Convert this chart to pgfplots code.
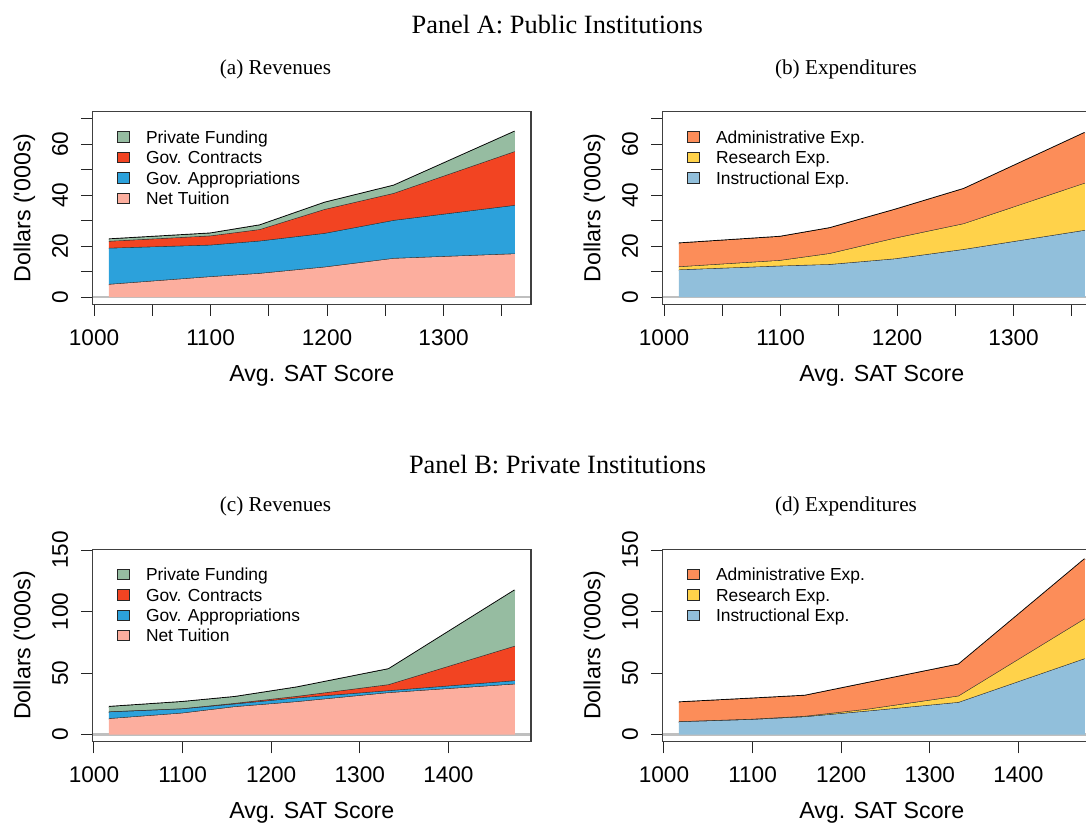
\documentclass[border=0pt]{standalone}
\usepackage{fontspec}
\setmainfont{Liberation Serif}
\newfontfamily\arialfont{Liberation Sans}
\usepackage{pgfplots}
\pgfplotsset{compat=1.18}
\usepackage{pgfplotstable}

\definecolor{tuitc}{RGB}{252,174,158}
\definecolor{apprc}{RGB}{44,161,219}
\definecolor{contc}{RGB}{242,68,34}
\definecolor{privc}{RGB}{150,188,161}
\definecolor{adminc}{RGB}{252,141,89}
\definecolor{resc}{RGB}{255,210,74}
\definecolor{instc}{RGB}{145,191,219}

\newcommand{\tickfont}{\arialfont\fontsize{11.3}{13}\selectfont}
\newcommand{\labfont}{\arialfont\fontsize{11.6}{13}\selectfont}
\newcommand{\legfont}{\arialfont\fontsize{8.7}{10}\selectfont}
\newcommand{\panelfont}{\fontsize{13.2}{15}\selectfont}
\newcommand{\subfont}{\fontsize{10.6}{12}\selectfont}

% Panel A: public institutions (dollars per student, '000s)
\pgfplotstableread{
x      tuition approp contracts private
1012.7  4.9    14.2   2.7       0.9
1099.6  7.9    12.4   3.6       1.1
1142.3  9.2    12.7   4.5       1.8
1198.0 11.7    13.2   9.4       2.8
1257.3 15.1    14.9  10.6       3.2
1361.1 16.9    19.0  21.1       8.0
}\pubrev
\pgfplotstableread{
x      instr research admin
1012.7 10.6   1.2     9.3
1099.6 12.1   2.2     9.4
1142.3 12.7   4.3    10.1
1198.0 14.9   8.1    11.3
1257.3 18.6  10.1    13.8
1361.1 26.1  18.5    19.9
}\pubexp
% Panel B: private institutions
\pgfplotstableread{
x      tuition approp contracts private
1016.8 12.7    5.4    0.1       4.3
1099.4 17.2    3.4    0.1       5.8
1159.1 22.4    2.2    0.5       5.5
1229.2 26.5    3.0    1.3       7.6
1332.6 33.8    1.6    4.9      12.9
1474.9 40.8    2.7   28.1      45.7
}\privrev
\pgfplotstableread{
x      instr research admin
1016.8 10.1   0.1    16.0
1099.4 12.0   0.2    17.1
1159.1 14.2   0.4    17.0
1229.2 18.8   1.5    21.6
1332.6 25.9   5.2    25.9
1474.9 61.4  32.4    48.9
}\privexp

\tikzset{zeroline/.style={gray!50, line width=1.15pt}}

\pgfplotsset{
  swatch/.style={legend image code/.code={%
      \draw[##1,draw=black!85,line width=0.45pt] (0pt,-1.7pt) rectangle (6.35pt,3.45pt);}},
  innerline/.style={draw=black!80, line width=0.6pt, forget plot},
  outerline/.style={draw=black, line width=0.9pt, forget plot},
  panel/.style={
    scale only axis, width=219.2pt, height=96.3pt,
    anchor=south west,
    axis line style={black!75, line width=0.55pt},
    tick align=outside, tick pos=left,
    major tick length=5.8pt,
    major tick style={black!85, line width=0.5pt},
    minor tick num=0,
    stack plots=y,
    /pgf/number format/assume math mode=true,
    tick label style={font=\tickfont},
    xticklabel style={anchor=base, yshift=-14.6pt},
    yticklabel style={xshift=-6.6pt, rotate=90, anchor=base},
    xlabel={Avg. SAT Score}, ylabel={Dollars ('000s)},
    x label style={at={(axis description cs:0.5,-0.4013)}, anchor=base, font=\labfont},
    y label style={at={(axis description cs:-0.1419,0.5)}, anchor=base, font=\labfont},
    legend cell align=left,
    legend style={at={(axis description cs:0.055,0.9034)}, anchor=north west,
      draw=none, fill=none, inner sep=0pt, outer sep=0pt, row sep=1.7pt,
      font=\legfont,
      nodes={inner sep=0pt, text height=6.5pt, text depth=2pt},
      /tikz/every odd column/.append style={column sep=7.85pt}},
  },
  toprow/.style={xmin=998.76, xmax=1375.04, ymin=-2.8, ymax=72.8,
    xtick={1000,1050,...,1350}, xticklabels={1000,,1100,,1200,,1300,},
    ytick={0,10,...,70}, yticklabels={0,,20,,40,,60,}},
  botrow/.style={xmin=998.48, xmax=1493.22, ymin=-5.8, ymax=150.8,
    xtick={1000,1100,...,1400}, xticklabels={1000,1100,1200,1300,1400},
    ytick={0,50,100,150}, yticklabels={0,50,100,150}},
}

\begin{document}
\begin{tikzpicture}
% titles
\node[font=\panelfont, anchor=base] at (278.6pt,-16.65pt) {Panel A: Public Institutions};
\node[font=\panelfont, anchor=base] at (278.75pt,-236.65pt) {Panel B: Private Institutions};
\node[font=\subfont, anchor=base] at (137.75pt,-37.5pt) {(a) Revenues};
\node[font=\subfont, anchor=base] at (423pt,-37.5pt) {(b) Expenditures};
\node[font=\subfont, anchor=base] at (137.75pt,-255.5pt) {(c) Revenues};
\node[font=\subfont, anchor=base] at (423pt,-255.5pt) {(d) Expenditures};

% (a) revenues, public
\begin{axis}[panel, toprow, at={(46.3pt,-152.15pt)}]
\addlegendimage{swatch, fill=privc}\addlegendentry{Private Funding}
\addlegendimage{swatch, fill=contc}\addlegendentry{Gov. Contracts}
\addlegendimage{swatch, fill=apprc}\addlegendentry{Gov. Appropriations}
\addlegendimage{swatch, fill=tuitc}\addlegendentry{Net Tuition}
\addplot[fill=tuitc, draw=none, forget plot] table[x=x, y=tuition]{\pubrev} \closedcycle;
\addplot[innerline] table[x=x, y expr=0]{\pubrev};
\addplot[fill=apprc, draw=none, forget plot] table[x=x, y=approp]{\pubrev} \closedcycle;
\addplot[innerline] table[x=x, y expr=0]{\pubrev};
\addplot[fill=contc, draw=none, forget plot] table[x=x, y=contracts]{\pubrev} \closedcycle;
\addplot[innerline] table[x=x, y expr=0]{\pubrev};
\addplot[fill=privc, draw=none, forget plot] table[x=x, y=private]{\pubrev} \closedcycle;
\addplot[outerline] table[x=x, y expr=0]{\pubrev};
\draw[zeroline] (axis cs:999.3,0) -- (axis cs:1374.5,0);
\fill[white, opacity=0.75] (axis cs:1158.2,30.6) rectangle (axis cs:1183.4,34.9);
\end{axis}

% (b) expenditures, public
\begin{axis}[panel, toprow, at={(331.3pt,-152.15pt)}]
\addlegendimage{swatch, fill=adminc}\addlegendentry{Administrative Exp.}
\addlegendimage{swatch, fill=resc}\addlegendentry{Research Exp.}
\addlegendimage{swatch, fill=instc}\addlegendentry{Instructional Exp.}
\addplot[fill=instc, draw=none, forget plot] table[x=x, y=instr]{\pubexp} \closedcycle;
\addplot[innerline] table[x=x, y expr=0]{\pubexp};
\addplot[fill=resc, draw=none, forget plot] table[x=x, y=research]{\pubexp} \closedcycle;
\addplot[innerline] table[x=x, y expr=0]{\pubexp};
\addplot[fill=adminc, draw=none, forget plot] table[x=x, y=admin]{\pubexp} \closedcycle;
\addplot[outerline] table[x=x, y expr=0]{\pubexp};
\draw[zeroline] (axis cs:999.3,0) -- (axis cs:1374.5,0);
\end{axis}

% (c) revenues, private
\begin{axis}[panel, botrow, at={(46.3pt,-370.85pt)}]
\addlegendimage{swatch, fill=privc}\addlegendentry{Private Funding}
\addlegendimage{swatch, fill=contc}\addlegendentry{Gov. Contracts}
\addlegendimage{swatch, fill=apprc}\addlegendentry{Gov. Appropriations}
\addlegendimage{swatch, fill=tuitc}\addlegendentry{Net Tuition}
\addplot[fill=tuitc, draw=none, forget plot] table[x=x, y=tuition]{\privrev} \closedcycle;
\addplot[innerline] table[x=x, y expr=0]{\privrev};
\addplot[fill=apprc, draw=none, forget plot] table[x=x, y=approp]{\privrev} \closedcycle;
\addplot[innerline] table[x=x, y expr=0]{\privrev};
\addplot[fill=contc, draw=none, forget plot] table[x=x, y=contracts]{\privrev} \closedcycle;
\addplot[innerline] table[x=x, y expr=0]{\privrev};
\addplot[fill=privc, draw=none, forget plot] table[x=x, y=private]{\privrev} \closedcycle;
\addplot[outerline] table[x=x, y expr=0]{\privrev};
\draw[zeroline] (axis cs:999.2,0) -- (axis cs:1492.5,0);
\end{axis}

% (d) expenditures, private
\begin{axis}[panel, botrow, at={(331.3pt,-370.85pt)}]
\addlegendimage{swatch, fill=adminc}\addlegendentry{Administrative Exp.}
\addlegendimage{swatch, fill=resc}\addlegendentry{Research Exp.}
\addlegendimage{swatch, fill=instc}\addlegendentry{Instructional Exp.}
\addplot[fill=instc, draw=none, forget plot] table[x=x, y=instr]{\privexp} \closedcycle;
\addplot[innerline] table[x=x, y expr=0]{\privexp};
\addplot[fill=resc, draw=none, forget plot] table[x=x, y=research]{\privexp} \closedcycle;
\addplot[innerline] table[x=x, y expr=0]{\privexp};
\addplot[fill=adminc, draw=none, forget plot] table[x=x, y=admin]{\privexp} \closedcycle;
\addplot[outerline] table[x=x, y expr=0]{\privexp};
\draw[zeroline] (axis cs:999.2,0) -- (axis cs:1492.5,0);
\end{axis}

\pgfresetboundingbox
\path[use as bounding box] (0pt,0pt) rectangle (543pt,-411.5pt);
\end{tikzpicture}
\end{document}
